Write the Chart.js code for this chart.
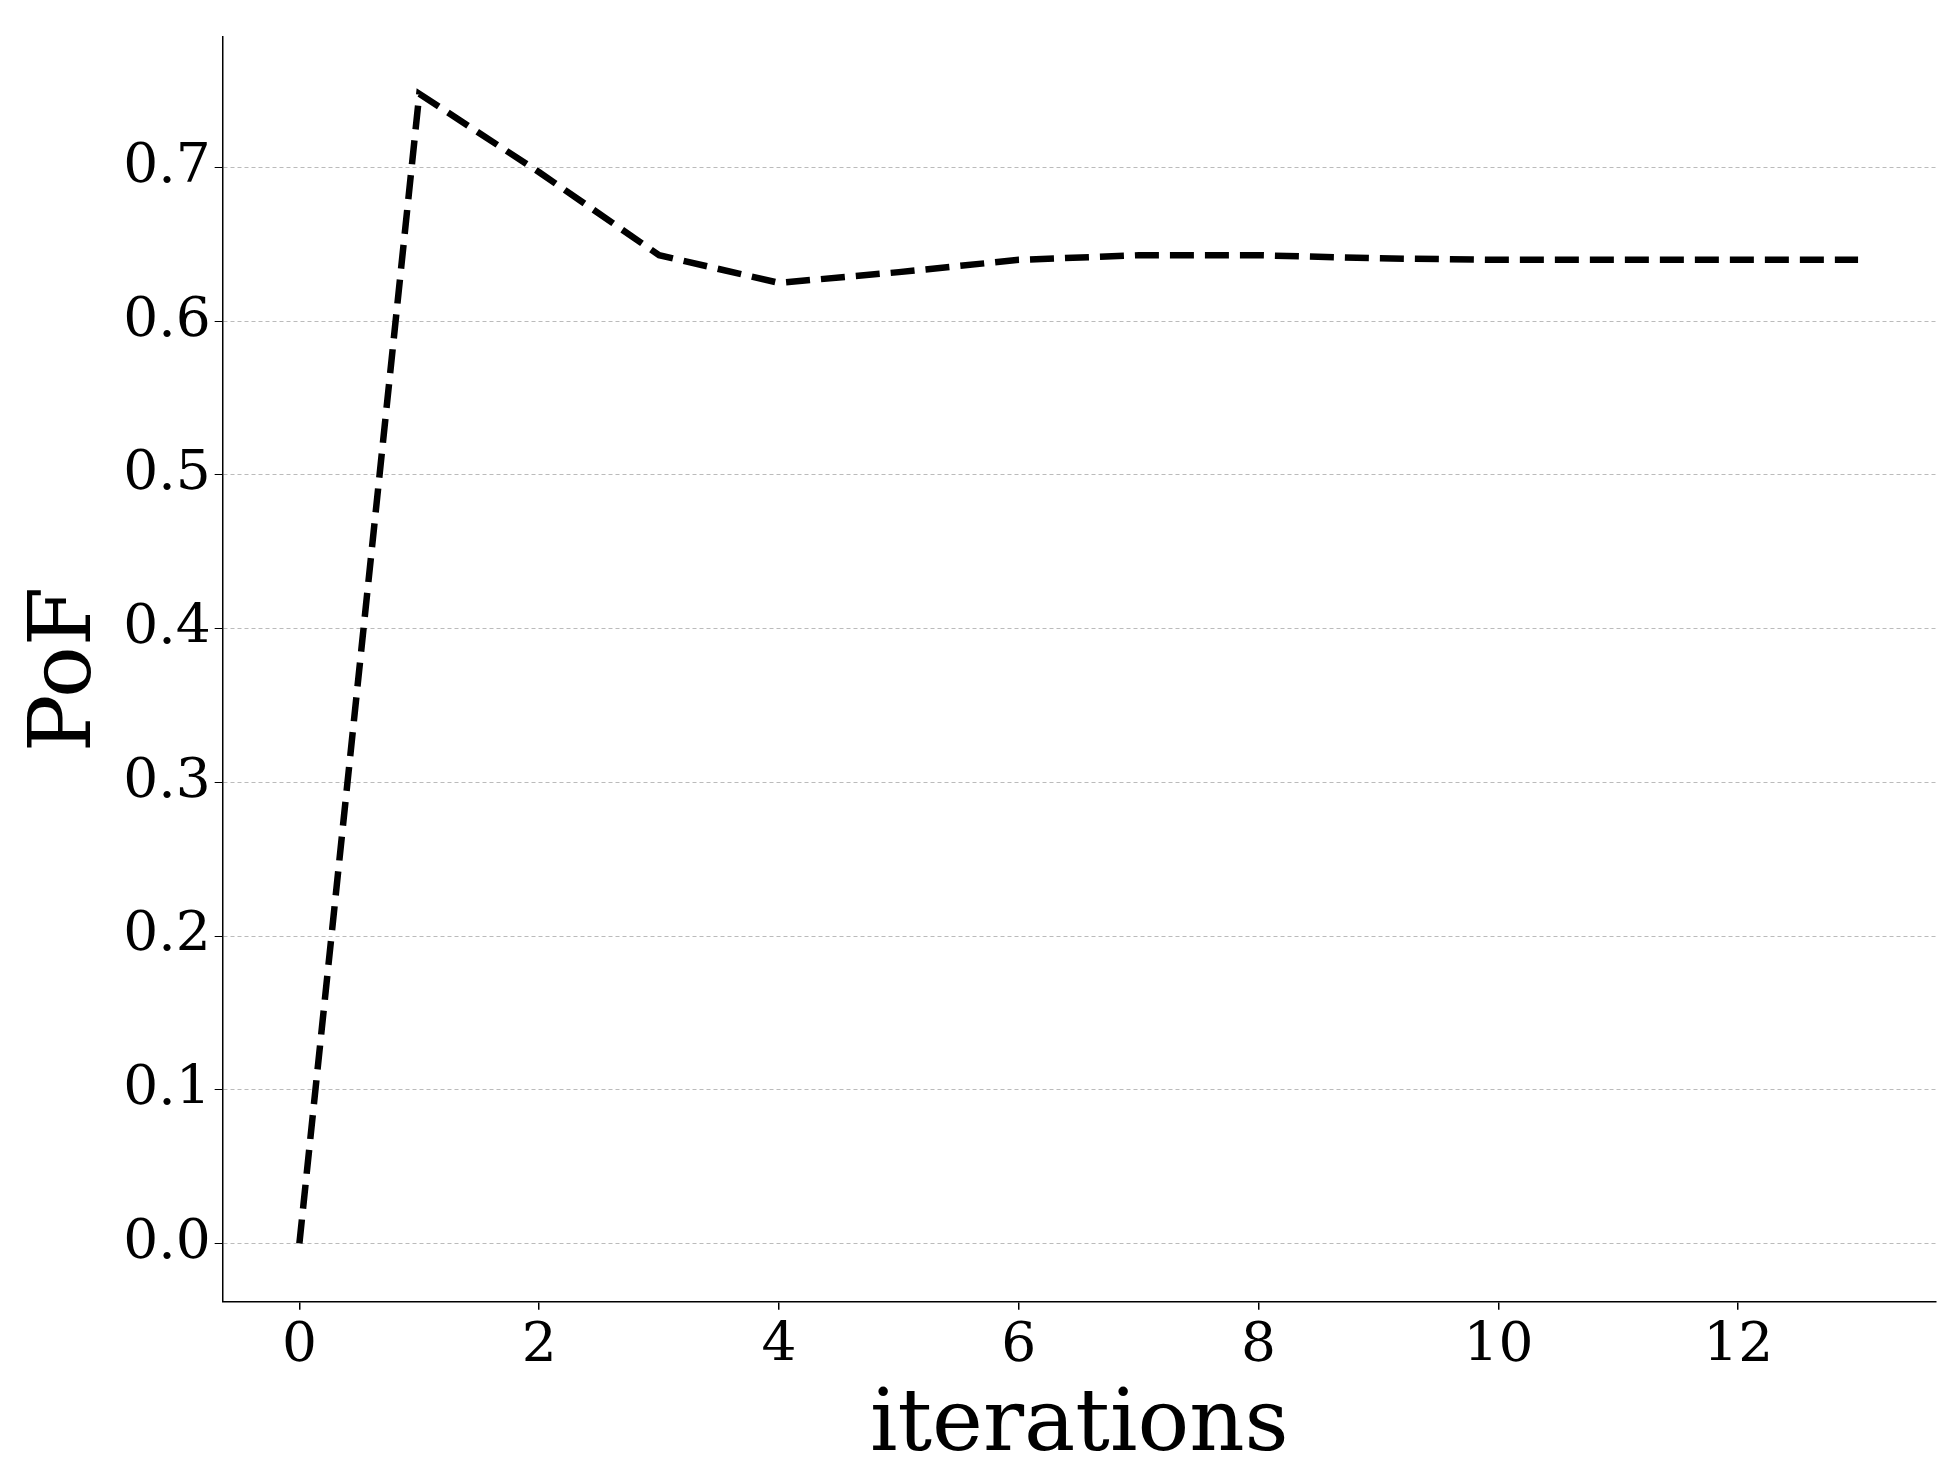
<!DOCTYPE html>
<html><head><meta charset="utf-8">
<script src="https://cdn.jsdelivr.net/npm/chart.js@4"></script>
<style>html,body{margin:0;background:#fff}#wrap{width:1956px;height:1479px}</style>
</head><body><div id="wrap"><canvas id="c"></canvas></div>
<script>
const iterations = [0,1,2,3,4,5,6,7,8,9,10,11,12,13];
const pofValues = [0.0,0.748,0.697,0.643,0.625,0.632,0.640,0.643,0.643,0.641,0.640,0.640,0.640,0.640];
const xTicks = [0,2,4,6,8,10,12];
const yTicks = [0.0,0.1,0.2,0.3,0.4,0.5,0.6,0.7];

const font = 'DejaVu Serif';
new Chart(document.getElementById('c'), {
  type: 'line',
  data: { datasets: [{
    data: iterations.map((x, i) => ({ x, y: pofValues[i] })),
    borderColor: '#000', borderWidth: 6.5, borderDash: [24, 11],
    pointRadius: 0, fill: false, tension: 0
  }]},
  options: {
    responsive: true, maintainAspectRatio: false, animation: false,
    layout: { padding: { top: 32, right: 20, left: 12, bottom: 0 } },
    plugins: { legend: { display: false }, tooltip: { enabled: false } },
    scales: {
      x: {
        type: 'linear', min: -0.64, max: 13.65,
        afterBuildTicks: a => { a.ticks = xTicks.map(v => ({ value: v })); },
        grid: { display: true, drawOnChartArea: false, tickLength: 8, color: '#000', lineWidth: 1.5 },
        border: { color: '#000', width: 1.5 },
        ticks: { color: '#000', font: { family: font, size: 55 }, padding: 4, maxRotation: 0 },
        title: { display: true, text: 'iterations', color: '#000', font: { family: font, size: 86 }, padding: { top: -8, bottom: 0 } }
      },
      y: {
        min: -0.038, max: 0.785,
        afterBuildTicks: a => { a.ticks = yTicks.map(v => ({ value: v })); },
        grid: { color: '#bbb', lineWidth: 1, tickLength: 8, tickColor: '#000', tickBorderDash: [] },
        border: { color: '#000', width: 1.5, dash: [4, 3] },
        ticks: { color: '#000', font: { family: font, size: 55 }, padding: 4, callback: v => v.toFixed(1) },
        title: { display: true, text: 'PoF', color: '#000', font: { family: font, size: 86 }, padding: { bottom: 0 } }
      }
    }
  }
});
</script></body></html>
